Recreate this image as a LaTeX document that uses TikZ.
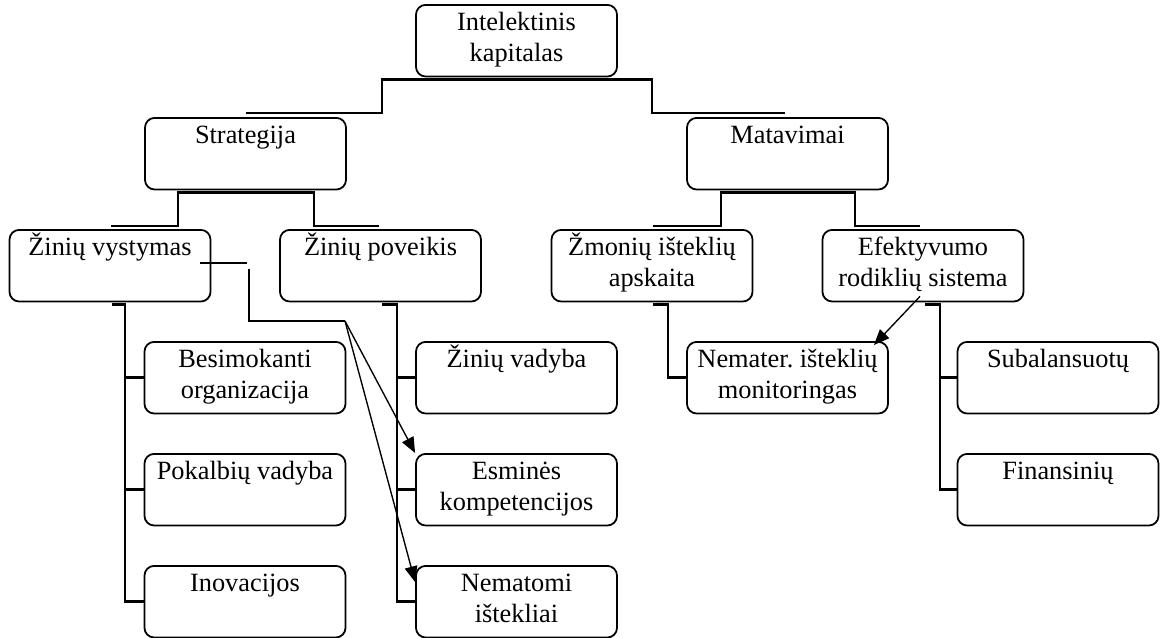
\documentclass[tikz,border=0pt]{standalone}
\usepackage{fontspec}
\setmainfont{Liberation Serif}
\usetikzlibrary{calc,arrows.meta}
\frenchspacing

\tikzset{
  box/.style={draw, line width=0.9pt, rounded corners=5pt, text width=3.62cm,
    align=flush center, inner xsep=0pt, inner ysep=3pt, text height=10pt,
    text depth=20.7pt, anchor=north, font=\fontsize{13.5}{15.9}\selectfont},
  link/.style={line width=1.5pt},
  thinline/.style={line width=0.7pt},
  arrow/.style={thinline, -{Triangle[length=8pt,width=6.5pt]}},
}

\begin{document}
\begin{tikzpicture}[x=0.018cm, y=-0.018cm]
        \useasboundingbox (0,0) rectangle (1160,637);

        % top
        \node[box] (intel) at (516.5,4) {Intelektinis\\kapitalas};
        \node[box] (strat) at (245.5,117) {Strategija};
        \node[box] (matav) at (787.5,117) {Matavimai};

        % second row
        \node[box] (vyst) at (110,229) {Žinių vystymas};
        \node[box] (povk) at (380.5,229) {Žinių poveikis};
        \node[box] (zmon) at (652,229) {Žmonių išteklių\\apskaita};
        \node[box] (efekt) at (923,229) {Efektyvumo\\rodiklių sistema};

        % third row
        \node[box] (besim) at (245,341) {Besimokanti\\organizacija};
        \node[box] (pokalb) at (245,453) {Pokalbių vadyba};
        \node[box] (inov) at (245,565) {Inovacijos};
        \node[box] (vadyb) at (516.5,341) {Žinių vadyba};
        \node[box] (esmin) at (516.5,453) {Esminės\\kompetencijos};
        \node[box] (nemat) at (516.5,565) {Nematomi\\ištekliai};
        \node[box] (nemater) at (787.5,341) {Nemater. išteklių\\monitoringas};
        \node[box] (subal) at (1058,341) {Subalansuotų};
        \node[box] (finans) at (1058,453) {Finansinių};

        % tree lines
        \draw[link] ($(strat.north)+(0,-4)$) -| ($(intel.south)+(-134.5,2)$)
            -- ($(intel.south)+(135.5,2)$) |- ($(matav.north)+(-2.5,-4)$);
        \draw[link] ($(vyst.north)+(1,-3)$) -| ($(strat.south)+(-67.5,2)$)
            -- ($(strat.south)+(68.5,2)$) |- ($(povk.north)+(-1.5,-3)$);
        \draw[link] ($(zmon.north)+(1,-3)$) -| ($(matav.south)+(-66.5,2)$)
            -- ($(matav.south)+(67.5,2)$) |- ($(efekt.north)+(-3,-3)$);

        \coordinate (vystbus) at ($(vyst.south)+(15,2)$);
        \draw[link] ($(vyst.south)+(2,2)$) -- (vystbus) |- (inov.west);
        \draw[link] (vystbus) |- (besim.west);
        \draw[link] (vystbus) |- (pokalb.west);

        \coordinate (povkbus) at ($(povk.south)+(16.5,2)$);
        \draw[link] ($(povk.south)+(1.5,2)$) -- (povkbus) |- (nemat.west);
        \draw[link] (povkbus) |- (vadyb.west);
        \draw[link] (povkbus) |- (esmin.west);

        \coordinate (zmonbus) at ($(zmon.south)+(16,2)$);
        \draw[link] ($(zmon.south)+(1,2)$) -- (zmonbus) |- (nemater.west);

        \coordinate (efektbus) at ($(efekt.south)+(17,2)$);
        \draw[link] ($(efekt.south)+(2,2)$) -- (efektbus) |- (finans.west);
        \draw[link] (efektbus) |- (subal.west);

        % thin arrows
        \coordinate (fork) at (345,321);
        \draw[thinline] (200,263) -- (247,263);
        \draw[thinline] (249,269) |- (fork);
        \draw[arrow] (fork) -- (esmin.north west);
        \draw[arrow] (fork) -- ($(nemat.north west)+(0,17)$);
        \draw[arrow] ($(efekt.south)+(-3,-6)$) -- ($(nemater.north east)+(-15,4)$);
    \end{tikzpicture}
\end{document}
